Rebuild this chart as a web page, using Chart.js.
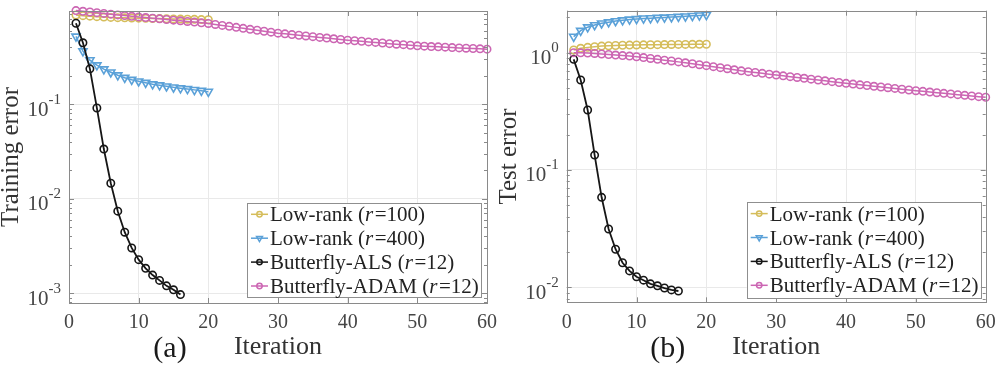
<!DOCTYPE html>
<html><head><meta charset="utf-8">
<script src="https://cdn.jsdelivr.net/npm/chart.js@4.4.1/dist/chart.umd.min.js"></script>
<style>
html,body{margin:0;padding:0;background:#fff;}
#wrap{position:relative;width:997px;height:368px;overflow:hidden;background:#fff;}
canvas{position:absolute;top:0;}
#c1{left:0;}
#c2{left:497px;}
</style></head><body>
<div id="wrap"><canvas id="c1" width="497" height="368"></canvas><canvas id="c2" width="500" height="368"></canvas></div>
<script>
// ---------------- data ----------------
const legendNames = ['Low-rank', 'Low-rank', 'Butterfly-ALS', 'Butterfly-ADAM'];
const legendRanks = [100, 400, 12, 12];
const xTickValues = [0, 10, 20, 30, 40, 50, 60];

const trainLowRank100 = [0.880, 0.866, 0.855, 0.845, 0.837, 0.830, 0.825, 0.821, 0.818, 0.815,
  0.812, 0.809, 0.806, 0.803, 0.800, 0.797, 0.794, 0.791, 0.787, 0.784];
const trainLowRank400 = [0.522, 0.365, 0.293, 0.259, 0.235, 0.218, 0.203, 0.191, 0.182, 0.175,
  0.169, 0.163, 0.159, 0.155, 0.151, 0.148, 0.145, 0.142, 0.139, 0.136];
const trainButterflyALS = [0.72, 0.447, 0.237, 0.0914, 0.0336, 0.0146, 0.0074, 0.00443, 0.00302, 0.00227,
  0.00184, 0.00156, 0.00137, 0.00120, 0.00109, 0.00097];
const trainButterflyADAM = [0.980, 0.963, 0.947, 0.931, 0.915, 0.898, 0.882, 0.867, 0.853, 0.840,
  0.827, 0.815, 0.802, 0.789, 0.776, 0.764, 0.752, 0.740, 0.728, 0.716,
  0.699, 0.683, 0.667, 0.651, 0.636, 0.621, 0.607, 0.592, 0.579, 0.565,
  0.556, 0.546, 0.537, 0.528, 0.519, 0.510, 0.502, 0.493, 0.485, 0.477,
  0.470, 0.464, 0.457, 0.451, 0.445, 0.438, 0.432, 0.427, 0.421, 0.415,
  0.412, 0.408, 0.405, 0.402, 0.398, 0.395, 0.392, 0.389, 0.386, 0.383];

const testLowRank100 = [1.054, 1.090, 1.110, 1.125, 1.138, 1.146, 1.152, 1.157, 1.161, 1.164,
  1.167, 1.169, 1.171, 1.173, 1.175, 1.176, 1.177, 1.178, 1.179, 1.180];
const testLowRank400 = [1.37, 1.54, 1.65, 1.72, 1.78, 1.82, 1.86, 1.89, 1.92, 1.94,
  1.96, 1.97, 1.985, 1.995, 2.01, 2.025, 2.04, 2.06, 2.08, 2.10];
const testButterflyALS = [0.877, 0.585, 0.325, 0.134, 0.0585, 0.0314, 0.0211, 0.0162, 0.0138, 0.0123,
  0.0115, 0.0107, 0.0103, 0.00986, 0.0095, 0.0093];
const testButterflyADAM = [1.000, 0.998, 0.993, 0.985, 0.975, 0.965, 0.955, 0.945, 0.935, 0.923,
  0.908, 0.893, 0.878, 0.864, 0.850, 0.835, 0.820, 0.805, 0.790, 0.775,
  0.760, 0.745, 0.730, 0.715, 0.700, 0.689, 0.678, 0.667, 0.656, 0.645,
  0.635, 0.625, 0.615, 0.605, 0.595, 0.585, 0.576, 0.566, 0.557, 0.548,
  0.540, 0.532, 0.525, 0.517, 0.510, 0.503, 0.496, 0.488, 0.481, 0.474,
  0.468, 0.462, 0.456, 0.450, 0.445, 0.439, 0.433, 0.428, 0.422, 0.417];

// ---------------- styles ----------------
const SERIF = '"Liberation Serif", "DejaVu Serif", serif';
const seriesColors = ['#d5bd5b', '#5ba1d8', '#161616', '#cc66b3'];
const seriesMarkers = ['circle', 'triangle', 'circle', 'circle'];
const seriesRot = [0, 180, 0, 0];
const seriesRadius = [3.7, 4.7, 3.7, 3.7];
const seriesWidth = [1.5, 1.5, 1.8, 1.5];
const AXIS_COLOR = '#8a8a8a';
const GRID_COLOR = '#e9e9e9';

const toXY = arr => arr.map((v, i) => ({x: i + 1, y: v}));

function makeDatasets(seriesList) {
  return seriesList.map((s, i) => ({
    label: legendNames[i] + ' (r=' + legendRanks[i] + ')',
    data: toXY(s),
    borderColor: seriesColors[i],
    backgroundColor: 'rgba(0,0,0,0)',
    pointBorderColor: seriesColors[i],
    pointBackgroundColor: 'rgba(0,0,0,0)',
    borderWidth: seriesWidth[i],
    pointBorderWidth: 1.6,
    pointRadius: seriesRadius[i],
    pointStyle: seriesMarkers[i],
    pointRotation: seriesRot[i],
    tension: 0,
    clip: false,
    order: [4, 3, 2, 1][i]
  }));
}

const isDecade = v => v > 0 && Math.abs(Math.log10(v) - Math.round(Math.log10(v))) < 1e-6;

const matlabPlugin = {
  id: 'matlabLook',
  afterDraw(chart, args, o) {
    const ctx = chart.ctx, a = chart.chartArea;
    const xs = chart.scales.x, ys = chart.scales.y;
    ctx.save();
    // box
    ctx.strokeStyle = AXIS_COLOR; ctx.lineWidth = 1;
    ctx.strokeRect(Math.round(a.left) + 0.5, Math.round(a.top) + 0.5,
      Math.round(a.right) - Math.round(a.left), Math.round(a.bottom) - Math.round(a.top));
    // x ticks inward
    ctx.beginPath();
    xTickValues.forEach(v => {
      const px = Math.round(xs.getPixelForValue(v)) + 0.5;
      ctx.moveTo(px, a.bottom); ctx.lineTo(px, a.bottom - 5);
      ctx.moveTo(px, a.top); ctx.lineTo(px, a.top + 5);
    });
    // y ticks (major + minor) inward
    const kmin = Math.floor(Math.log10(ys.min)), kmax = Math.ceil(Math.log10(ys.max));
    for (let k = kmin; k <= kmax; k++) {
      for (let m = 1; m <= 9; m++) {
        const v = m * Math.pow(10, k);
        if (v < ys.min || v > ys.max) continue;
        const py = Math.round(ys.getPixelForValue(v)) + 0.5;
        const len = m === 1 ? 5 : 3;
        ctx.moveTo(a.left, py); ctx.lineTo(a.left + len, py);
        ctx.moveTo(a.right, py); ctx.lineTo(a.right - len, py);
      }
    }
    ctx.stroke();

    // y tick labels 10^k
    ctx.fillStyle = '#454545';
    ctx.textBaseline = 'alphabetic';
    ctx.textAlign = 'left';
    for (let k = Math.ceil(Math.log10(ys.min) - 1e-9); k <= Math.floor(Math.log10(ys.max) + 1e-9); k++) {
      const py = ys.getPixelForValue(Math.pow(10, k));
      const exp = String(k);
      ctx.font = '15px ' + SERIF;
      const ew = ctx.measureText(exp).width;
      ctx.font = '21px ' + SERIF;
      const bw = ctx.measureText('10').width;
      const xr = a.left - 8;
      ctx.fillText('10', xr - ew - bw, py + 11.5);
      ctx.font = '15px ' + SERIF;
      ctx.fillText(exp, xr - ew, py - 0.5);
    }

    // y title
    ctx.save();
    ctx.fillStyle = '#333';
    ctx.font = '25px ' + SERIF;
    ctx.translate(a.left - 51, (a.top + a.bottom) / 2);
    ctx.rotate(-Math.PI / 2);
    ctx.textAlign = 'center';
    ctx.fillText(o.yTitle, 0, 0);
    ctx.restore();

    // x title
    ctx.fillStyle = '#333';
    ctx.font = '26px ' + SERIF;
    ctx.textAlign = 'center';
    ctx.fillText('Iteration', (a.left + a.right) / 2, 354);
    // panel tag
    ctx.fillStyle = '#1a1a1a';
    ctx.font = '30px ' + SERIF;
    ctx.fillText(o.tag, a.left + 101, 356.5);

    // legend
    const L = o.legend;
    const x1 = a.right - L.offRight, y1 = a.bottom - L.offBottom;
    const x0 = x1 - L.width, y0 = y1 - L.height;
    ctx.fillStyle = '#fff';
    ctx.fillRect(x0, y0, L.width, L.height);
    ctx.strokeStyle = '#8f8f8f'; ctx.lineWidth = 1;
    ctx.strokeRect(Math.round(x0) + 0.5, Math.round(y0) + 0.5, Math.round(L.width), Math.round(L.height));
    chart.data.datasets.forEach((ds, i) => {
      const yc = y0 + L.firstRow + i * L.rowGap;
      ctx.strokeStyle = ds.borderColor; ctx.lineWidth = 1.5;
      ctx.beginPath(); ctx.moveTo(x0 + 4, yc); ctx.lineTo(x0 + 21, yc); ctx.stroke();
      ctx.fillStyle = 'rgba(0,0,0,0)';
      Chart.helpers.drawPoint(ctx, {pointStyle: ds.pointStyle, rotation: ds.pointRotation,
        radius: ds.pointStyle === 'triangle' ? 3.4 : 2.7, borderWidth: 1.3}, x0 + 12.5, yc);
      ctx.fillStyle = '#222';
      ctx.textAlign = 'left';
      let tx = x0 + 23;
      const by = yc + 7;
      ctx.font = '21px ' + SERIF;
      const p1 = legendNames[i] + ' (';
      ctx.fillText(p1, tx, by); tx += ctx.measureText(p1).width;
      ctx.font = 'italic 21px ' + SERIF;
      ctx.fillText('r', tx, by); tx += ctx.measureText('r').width + 1.5;
      ctx.font = '21px ' + SERIF;
      ctx.fillText('=' + legendRanks[i] + ')', tx, by);
    });
    ctx.restore();
  }
};

function makeChart(id, seriesList, yMin, yMax, pad, xHeight, yTitle, tag, legend) {
  return new Chart(document.getElementById(id), {
    type: 'line',
    data: {datasets: makeDatasets(seriesList)},
    options: {
      responsive: false, animation: false, devicePixelRatio: 1,
      layout: {padding: pad},
      plugins: {legend: {display: false}, tooltip: {enabled: false},
        matlabLook: {yTitle, tag, legend}},
      scales: {
        x: {type: 'linear', min: 0, max: 60,
          afterFit: s => { s.height = xHeight; s.paddingLeft = 0; s.paddingRight = 0; },
          afterBuildTicks: s => { s.ticks = xTickValues.map(v => ({value: v})); },
          ticks: {font: {family: SERIF, size: 20}, color: '#454545', padding: 8, maxRotation: 0, autoSkip: false},
          grid: {color: c => (c.tick && c.tick.value > 0 && c.tick.value < 60) ? GRID_COLOR : 'rgba(0,0,0,0)', drawTicks: false},
          border: {display: false}},
        y: {type: 'logarithmic', min: yMin, max: yMax,
          afterFit: s => { s.width = pad.yw; },
          ticks: {display: false},
          grid: {color: c => (c.tick && isDecade(c.tick.value)) ? GRID_COLOR : 'rgba(0,0,0,0)', drawTicks: false},
          border: {display: false}}
      }
    },
    plugins: [matlabPlugin]
  });
}

makeChart('c1', [trainLowRank100, trainLowRank400, trainButterflyALS, trainButterflyADAM],
  0.00079, 0.97, {left: 0, right: 10, top: 11, bottom: 0, yw: 69}, 65, 'Training error', '(a)',
  {width: 234, height: 94, offRight: 6, offBottom: 6, firstRow: 11.3, rowGap: 23.9});
makeChart('c2', [testLowRank100, testLowRank400, testButterflyALS, testButterflyADAM],
  0.00745, 2.28, {left: 0, right: 11.3, top: 10.7, bottom: 0, yw: 69.7}, 65.7, 'Test error', '(b)',
  {width: 234, height: 96, offRight: 5, offBottom: 4.3, firstRow: 11.6, rowGap: 23.9});
</script>
</body></html>
